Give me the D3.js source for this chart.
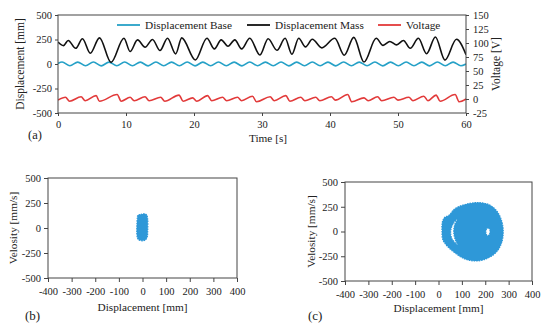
<!DOCTYPE html>
<html>
<head>
<meta charset="utf-8">
<script src="https://cdn.jsdelivr.net/npm/d3@7"></script>
<style>
body { margin: 0; background: #fff; }
svg text { font-family: "Liberation Serif", "Times New Roman", serif; fill: #222; }
</style>
</head>
<body>
<script>
// panel (a): turning points, [time s, value]
var baseDisp = [[0,5],[0.6,20],[1.75,-18],[2.9,19],[4.05,-18],[5.2,20],[6.35,-19],[7.5,19],[8.65,-18],[9.8,20],
  [10.95,-18],[12.1,19],[13.25,-19],[14.4,20],[15.55,-18],[16.7,19],[17.85,-18],[19.0,20],[20.15,-19],[21.3,19],
  [22.45,-18],[23.6,20],[24.75,-18],[25.9,19],[27.05,-19],[28.2,20],[29.35,-18],[30.5,19],[31.65,-18],[32.8,20],
  [33.95,-19],[35.1,19],[36.25,-18],[37.4,20],[38.55,-18],[39.7,19],[40.85,-19],[42.0,20],[43.15,-18],[44.3,19],
  [45.45,-18],[46.6,20],[47.75,-19],[48.9,19],[50.05,-18],[51.2,20],[52.35,-18],[53.5,19],[54.65,-19],[55.8,20],
  [56.95,-18],[58.1,19],[59.25,-18],[60,0]];
var massDisp = [[0,225],[0.8,188],[1.5,240],[2.6,160],[3.6,257],[4.75,110],[6.1,267],[7.8,17],[9.7,263],[10.6,127],
  [11.7,246],[12.8,171],[13.9,250],[15.0,137],[16.1,263],[17.3,103],[18.2,267],[20.2,41],[21.9,263],[23.0,154],
  [24.0,246],[25.0,181],[26.0,246],[27.0,154],[28.2,263],[29.7,92],[30.9,258],[32.2,140],[33.4,262],[34.4,100],
  [35.4,262],[36.4,175],[37.4,252],[38.8,165],[40.7,262],[42.1,90],[43.5,272],[45.0,20],[46.8,262],[47.8,190],
  [48.8,230],[49.8,195],[50.8,240],[51.8,160],[53.0,262],[54.2,105],[55.5,275],[56.9,40],[58.6,252],[60,95]];
var voltage = [[0,-2],[1.1,3],[1.7,-4],[3.4,4],[4.0,-3],[5.6,6],[6.1,-4],[8.7,8],[9.3,-4],[10.6,3],[11.2,-3],
  [12.8,4],[13.4,-3],[15.1,3],[15.7,-4],[17.8,7],[18.4,-4],[19.8,2],[20.4,-4],[22.0,6],[22.6,-3],[24.2,3],[24.8,-3],
  [26.4,3],[27.0,-3],[28.6,5],[29.2,-5],[31.2,4],[31.8,-3],[33.5,6],[34.1,-4],[35.7,3],[36.3,-3],[37.9,3],[38.5,-3],
  [40.2,4],[40.8,-2],[42.6,8],[43.2,-5],[45.0,2],[45.6,-3],[47.0,4],[47.6,-3],[49.4,3],[50.0,-2],[51.6,3],[52.2,-3],
  [53.8,5],[54.4,-3],[55.6,7],[56.2,-4],[58.4,8],[59.0,-5],[60,0]];

var timeTicks = [0, 10, 20, 30, 40, 50, 60];
var dispTicks = [-500, -250, 0, 250, 500];
var voltTicks = [-25, 0, 25, 50, 75, 100, 125, 150];
var phaseXTicks = [-400, -300, -200, -100, 0, 100, 200, 300, 400];
var phaseYTicks = [-500, -250, 0, 250, 500];

var seriesNames = ["Displacement Base", "Displacement Mass", "Voltage"];
var seriesColors = ["#26a1c7", "#111111", "#e23a3a"];

// panels (b),(c): outlines of the point clouds, [displacement mm, velocity mm/s]
var baseCloud = [[-20,125],[-8,135],[10,142],[18,130],[22,90],[22,-30],[20,-90],[12,-120],[0,-128],[-15,-120],[-22,-95],[-22,100]];
var massCloud = [[15,0],[16,90],[25,140],[45,165],[70,230],[110,270],[165,292],[215,272],[250,205],[270,110],[277,0],
  [270,-115],[245,-215],[200,-280],[155,-298],[110,-275],[70,-215],[38,-150],[18,-80]];
var massGapCrescent = [[80,125],[62,75],[52,0],[58,-75],[82,-135],[70,-70],[65,0],[69,65]];
var massGapSmall = [[206,28],[214,36],[220,10],[218,-28],[210,-42],[203,-18]];

var fontFam = '"Liberation Serif", "Times New Roman", serif';
var frameColor = "#444";

var svg = d3.select("body").append("svg")
    .attr("width", 550)
    .attr("height", 327);

function styleAxis(g, size) {
  g.attr("font-family", fontFam).attr("font-size", size);
  g.selectAll(".domain").remove();
  g.selectAll(".tick line").attr("stroke", frameColor);
  g.selectAll(".tick text").attr("fill", "#222");
}

// ---------- panel (a) ----------
var x = d3.scaleLinear().domain([0, 60]).range([58, 466]);
var yL = d3.scaleLinear().domain([-500, 500]).range([113, 15]);
var yR = d3.scaleLinear().domain([-25, 150]).range([113, 15]);

svg.append("defs").append("clipPath").attr("id", "clipA")
  .append("rect").attr("x", 58).attr("y", 15).attr("width", 408).attr("height", 98);

var lineL = d3.line()
    .x(function(d) { return x(d[0]); })
    .y(function(d) { return yL(d[1]); })
    .curve(d3.curveMonotoneX);
var lineR = d3.line()
    .x(function(d) { return x(d[0]); })
    .y(function(d) { return yR(d[1]); })
    .curve(d3.curveMonotoneX);

var plotA = svg.append("g").attr("clip-path", "url(#clipA)");
plotA.append("path").datum(baseDisp).attr("d", lineL)
    .attr("fill", "none").attr("stroke", seriesColors[0]).attr("stroke-width", 1.6);
plotA.append("path").datum(massDisp).attr("d", lineL)
    .attr("fill", "none").attr("stroke", seriesColors[1]).attr("stroke-width", 1.6);
plotA.append("path").datum(voltage).attr("d", lineR)
    .attr("fill", "none").attr("stroke", seriesColors[2]).attr("stroke-width", 1.6);

svg.append("rect").attr("x", 58).attr("y", 15).attr("width", 408).attr("height", 98)
    .attr("fill", "none").attr("stroke", frameColor).attr("stroke-width", 1);

svg.append("g").attr("transform", "translate(0,113)")
    .call(d3.axisBottom(x).tickValues(timeTicks).tickSize(3).tickPadding(5).tickFormat(String))
    .call(styleAxis, 10.5);
svg.append("g").attr("transform", "translate(58,0)")
    .call(d3.axisLeft(yL).tickValues(dispTicks).tickSize(3).tickPadding(3).tickFormat(String))
    .call(styleAxis, 10.5);
svg.append("g").attr("transform", "translate(466,0)")
    .call(d3.axisRight(yR).tickValues(voltTicks).tickSize(3).tickPadding(4).tickFormat(String))
    .call(styleAxis, 10.5);

// legend
var legendX = [117, 247, 378];
seriesNames.forEach(function(name, i) {
  svg.append("line").attr("x1", legendX[i]).attr("x2", legendX[i] + 23)
      .attr("y1", 25).attr("y2", 25)
      .attr("stroke", seriesColors[i]).attr("stroke-width", 1.8);
  svg.append("text").attr("x", legendX[i] + 28).attr("y", 29)
      .attr("font-size", 11.3).text(name);
});

svg.append("text").attr("transform", "translate(24,64) rotate(-90)")
    .attr("text-anchor", "middle").attr("font-size", 11.5).text("Displacement [mm]");
svg.append("text").attr("transform", "translate(500,64) rotate(-90)")
    .attr("text-anchor", "middle").attr("font-size", 11.5).text("Voltage [V]");
svg.append("text").attr("x", 268).attr("y", 142)
    .attr("text-anchor", "middle").attr("font-size", 11.3).text("Time [s]");
svg.append("text").attr("x", 28).attr("y", 139)
    .attr("font-size", 12.5).text("(a)");

// ---------- panels (b) and (c) ----------
function phasePanel(box, clouds, label, labelX) {
  var px = d3.scaleLinear().domain([-400, 400]).range([box.x0, box.x1]);
  var py = d3.scaleLinear().domain([-500, 500]).range([box.y1, box.y0]);
  var shape = d3.line()
      .x(function(d) { return px(d[0]); })
      .y(function(d) { return py(d[1]); })
      .curve(d3.curveCatmullRomClosed.alpha(0.5));

  svg.append("path")
      .attr("d", clouds.map(shape).join(" "))
      .attr("fill", "#2e98d8")
      .attr("fill-rule", "evenodd")
      .attr("stroke", "#2e98d8")
      .attr("stroke-width", 1.2)
      .attr("stroke-dasharray", "1.5 1");

  svg.append("rect").attr("x", box.x0).attr("y", box.y0)
      .attr("width", box.x1 - box.x0).attr("height", box.y1 - box.y0)
      .attr("fill", "none").attr("stroke", frameColor).attr("stroke-width", 1);

  svg.append("g").attr("transform", "translate(0," + box.y1 + ")")
      .call(d3.axisBottom(px).tickValues(phaseXTicks).tickSize(4).tickPadding(6).tickFormat(String))
      .call(styleAxis, 10.5);
  svg.append("g").attr("transform", "translate(" + box.x0 + ",0)")
      .call(d3.axisLeft(py).tickValues(phaseYTicks).tickSize(4).tickPadding(3).tickFormat(String))
      .call(styleAxis, 10.5);

  svg.append("text")
      .attr("transform", "translate(" + box.yTitleX + "," + (box.y0 + box.y1) / 2 + ") rotate(-90)")
      .attr("text-anchor", "middle").attr("font-size", 11.3).text("Velosity [mm/s]");
  svg.append("text").attr("x", (box.x0 + box.x1) / 2).attr("y", box.xTitleY)
      .attr("text-anchor", "middle").attr("font-size", 11.3).text("Displacement [mm]");
  svg.append("text").attr("x", labelX).attr("y", 320)
      .attr("font-size", 13).text(label);
}

phasePanel({x0: 48, x1: 237, y0: 178, y1: 278, yTitleX: 17, xTitleY: 311},
    [baseCloud], "(b)", 25);
phasePanel({x0: 345, x1: 532, y0: 182, y1: 281, yTitleX: 315, xTitleY: 312},
    [massCloud, massGapCrescent, massGapSmall], "(c)", 308);
</script>
</body>
</html>
